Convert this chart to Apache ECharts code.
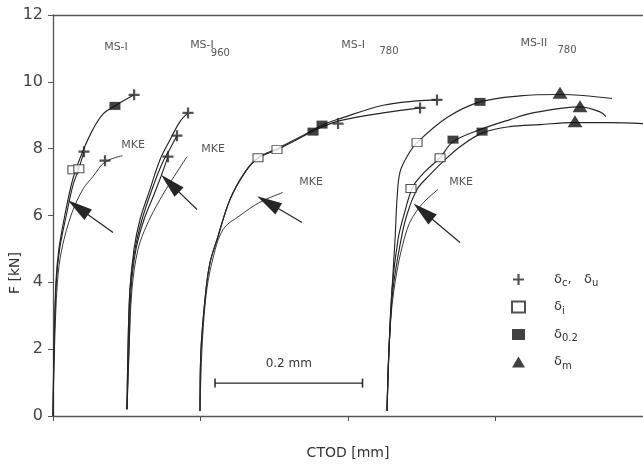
<!DOCTYPE html>
<html><head><meta charset="utf-8">
<script src="https://cdn.jsdelivr.net/npm/echarts@6/dist/echarts.min.js"></script>
<style>html,body{margin:0;padding:0;background:#fff}#c{width:643px;height:465px}</style>
</head><body><div id="c"></div>
<script>
// ---- axes ----
const xTicks = [0, 0.2, 0.4, 0.6, 0.8];
const yTicks = [0, 2, 4, 6, 8, 10, 12];

// ---- curves [CTOD mm, F kN] ----
const msI_1 = [[0,0],[0.0014,2],[0.004,4],[0.008,5],[0.016,6],[0.027,7.1],[0.040,7.9],[0.054,8.57],[0.068,9.04],[0.084,9.28],[0.110,9.61]];
const msI_2 = [[0,0],[0.0014,2],[0.0045,4],[0.009,5],[0.018,6],[0.027,6.9],[0.035,7.4],[0.042,7.91]];
const msI_mke = [[0,0],[0.002,2],[0.006,4],[0.012,5],[0.026,6.1],[0.041,6.8],[0.054,7.16],[0.0705,7.6],[0.094,7.79]];

const ms960_1 = [[0.1003,0.2],[0.1017,2],[0.1044,3.79],[0.1098,4.99],[0.118,5.88],[0.1315,6.78],[0.1451,7.67],[0.1587,8.27],[0.1722,8.81],[0.1831,9.07]];
const ms960_2 = [[0.1003,0.2],[0.1017,2],[0.1044,3.79],[0.1112,4.99],[0.1207,5.88],[0.1342,6.78],[0.1478,7.55],[0.1587,8.0],[0.1681,8.39]];
const ms960_3 = [[0.1003,0.2],[0.1031,2],[0.1058,3.79],[0.1125,4.99],[0.1234,5.88],[0.137,6.63],[0.1478,7.25],[0.1559,7.76]];
const ms960_mke = [[0.1003,0.2],[0.1031,2],[0.1071,3.79],[0.1153,4.99],[0.1275,5.73],[0.1451,6.48],[0.1614,7.07],[0.1817,7.76]];

const ms780_1 = [[0.1993,0.15],[0.2007,2],[0.2075,3.79],[0.213,4.6],[0.2224,5.28],[0.24,6.48],[0.2604,7.3],[0.278,7.73],[0.3037,8.0],[0.3349,8.35],[0.3648,8.7],[0.3892,8.9],[0.4475,9.3],[0.4936,9.43],[0.5207,9.46]];
const ms780_2 = [[0.1993,0.15],[0.2007,2],[0.2075,3.79],[0.213,4.6],[0.2224,5.28],[0.24,6.48],[0.2604,7.3],[0.278,7.72],[0.3037,7.97],[0.3349,8.32],[0.3648,8.65],[0.3892,8.84],[0.4475,9.07],[0.4977,9.22]];
const ms780_mke = [[0.1993,0.15],[0.202,2],[0.2075,3.6],[0.2156,4.6],[0.2305,5.58],[0.2536,6.0],[0.2807,6.4],[0.3119,6.69]];

const msII_1 = [[0.4529,0.15],[0.4556,2],[0.4597,3.79],[0.4638,5.28],[0.4665,6.5],[0.4705,7.3],[0.4815,7.82],[0.4936,8.18],[0.5343,8.93],[0.579,9.40],[0.6332,9.58],[0.6875,9.62],[0.7187,9.59],[0.758,9.5]];
const msII_2 = [[0.4529,0.15],[0.4556,2],[0.4597,3.79],[0.4678,5.28],[0.476,6.03],[0.4882,6.87],[0.5044,7.31],[0.5248,7.73],[0.5424,8.21],[0.579,8.57],[0.6197,8.87],[0.6509,9.07],[0.7146,9.25],[0.7417,9.1],[0.7499,8.96]];
const msII_3 = [[0.4529,0.15],[0.4556,2],[0.461,3.79],[0.4719,5.28],[0.48,6.03],[0.4936,6.78],[0.5112,7.22],[0.5288,7.61],[0.5519,8.06],[0.5831,8.48],[0.6197,8.66],[0.6604,8.72],[0.7038,8.78],[0.7553,8.78],[0.8,8.75]];
const msII_mke = [[0.4529,0.15],[0.4556,2],[0.4624,3.79],[0.48,5.58],[0.4977,6.27],[0.5221,6.78]];

// ---- characteristic points ----
const plusPts = [[0.110,9.61],[0.042,7.91],[0.0705,7.64],[0.1831,9.07],[0.1681,8.39],[0.1559,7.76],[0.3865,8.75],[0.5207,9.46],[0.4977,9.22]];
const openSqPts = [[0.027,7.37],[0.035,7.40],[0.278,7.73],[0.3037,7.97],[0.4936,8.18],[0.5248,7.73],[0.4854,6.81]];
const fillSqPts = [[0.084,9.28],[0.3526,8.51],[0.3648,8.72],[0.579,9.40],[0.5424,8.27],[0.5818,8.51]];
const triPts = [[0.6875,9.67],[0.7146,9.27],[0.7078,8.82]];

// ---- annotations ----
const arrows = [ // [tail, tip]
  [[0.0814,5.49],[0.0339,6.24]],
  [[0.1953,6.18],[0.1587,6.96]],
  [[0.3377,5.79],[0.2915,6.39]],
  [[0.5519,5.19],[0.5017,6.12]]
];
const labels = [ // [x, y, text, size]
  [0.0854,11.04,'MS-I',11],
  [0.2020,11.10,'MS-I',11],[0.2270,10.85,'960',10],
  [0.4070,11.10,'MS-I',11],[0.4556,10.90,'780',10],
  [0.6520,11.15,'MS-II',11],[0.6970,10.93,'780',10],
  [0.1085,8.12,'MKE',11],[0.2170,8.00,'MKE',11],[0.3500,7.01,'MKE',11],[0.5533,6.99,'MKE',11]
];
const scaleBar = [[0.2197,0.985],[0.4197,0.985]];
const scaleText = '0.2 mm';
const legendNames = ['plus','openSq','fillSq','tri'];

const ink = '#262626';
const plusPath = 'path://M4,0h2v4h4v2h-4v4h-2v-4h-4v-2h4z';
const curve = (d, w) => ({type:'line', data:d, showSymbol:false, smooth:0.35, silent:true,
  lineStyle:{color:ink, width:w||1.15}, z:2});

const series = [
  curve(msI_1), curve(msI_2), curve(msI_mke,0.9),
  curve(ms960_1), curve(ms960_2), curve(ms960_3), curve(ms960_mke,0.9),
  curve(ms780_1), curve(ms780_2), curve(ms780_mke,0.9),
  curve(msII_1), curve(msII_2), curve(msII_3), curve(msII_mke,0.9),
  {name:'plus', type:'scatter', data:plusPts, symbol:plusPath, symbolSize:11, itemStyle:{color:ink}, z:5},
  {name:'openSq', type:'scatter', data:openSqPts, symbol:'rect', symbolSize:[10,8], itemStyle:{color:'#fff', borderColor:ink, borderWidth:1}, z:5},
  {name:'fillSq', type:'scatter', data:fillSqPts, symbol:'rect', symbolSize:[11,8], itemStyle:{color:'#111'}, z:5},
  {name:'tri', type:'scatter', data:triPts, symbol:'triangle', symbolSize:[15,12], itemStyle:{color:'#111'}, z:5},
  {type:'line', data:scaleBar, symbol:'path://M0,0h1v10h-1z', symbolSize:[1.5,9], symbolKeepAspect:false,
   lineStyle:{color:ink, width:1.1}, itemStyle:{color:ink}, silent:true,
   markPoint:{symbol:'circle', symbolSize:0, data:[{coord:[(scaleBar[0][0]+scaleBar[1][0])/2, 1.55],
     label:{show:true, formatter:scaleText, fontFamily:'DejaVu Sans', fontSize:12, color:'#333'}}]}},
  {type:'scatter', data:labels.map(l=>({value:[l[0],l[1]], label:{fontSize:l[3]}, text:l[2]})), symbolSize:0, silent:true,
   label:{show:true, position:'inside', formatter:p=>p.data.text, fontFamily:'DejaVu Sans', color:'#2a2a2a'}},
  {type:'line', data:[], silent:true,
   markLine:{symbol:['none','triangle'], symbolSize:[13,25], silent:true, label:{show:false},
     lineStyle:{color:ink, width:1.2, type:'solid'}, itemStyle:{color:'#111'},
     data:arrows.map(a=>[{coord:a[0]},{coord:a[1]}])}}
];

const chart = echarts.init(document.getElementById('c'), null, {renderer:'canvas'});
chart.setOption({
  animation:false,
  backgroundColor:'#fff',
  grid:{left:53, right:0, top:15, bottom:48},
  xAxis:[
    {type:'value', min:xTicks[0], max:xTicks[xTicks.length-1], interval:0.2,
     axisLine:{lineStyle:{color:'#555', width:1.3}}, axisTick:{length:5, lineStyle:{color:'#555'}},
     axisLabel:{show:false}, splitLine:{show:false},
     name:'CTOD [mm]', nameLocation:'middle', nameGap:30,
     nameTextStyle:{fontFamily:'DejaVu Sans', fontSize:14, color:'#333'}},
    {type:'value', position:'top', min:0, max:0.8, axisLine:{show:true, lineStyle:{color:'#555', width:1.3}},
     axisTick:{show:false}, axisLabel:{show:false}, splitLine:{show:false}}
  ],
  yAxis:{type:'value', min:yTicks[0], max:yTicks[yTicks.length-1], interval:2,
    axisLine:{show:true, lineStyle:{color:'#555', width:1.3}}, axisTick:{show:true, length:5, lineStyle:{color:'#555'}},
    axisLabel:{fontFamily:'DejaVu Sans', fontSize:16, color:'#444', margin:10}, splitLine:{show:false}},
  legend:{orient:'vertical', left:506, top:268, itemWidth:13, itemHeight:11, itemGap:12,
    data:legendNames,
    formatter:n=>({plus:'{d|δ}{s|c}{d|,   δ}{s|u}', openSq:'{d|δ}{s|i}', fillSq:'{d|δ}{s|0.2}', tri:'{d|δ}{s|m}'})[n],
    textStyle:{padding:[0,0,0,24], rich:{d:{fontFamily:'DejaVu Sans', fontSize:13, color:'#333'},
      s:{fontFamily:'DejaVu Sans', fontSize:10, color:'#333', padding:[8,0,0,0]}}}},
  graphic:[{type:'text', left:8, top:252, rotation:Math.PI/2,
    style:{text:'F [kN]', font:'14px "DejaVu Sans"', fill:'#333'}}],
  series
});
</script></body></html>
